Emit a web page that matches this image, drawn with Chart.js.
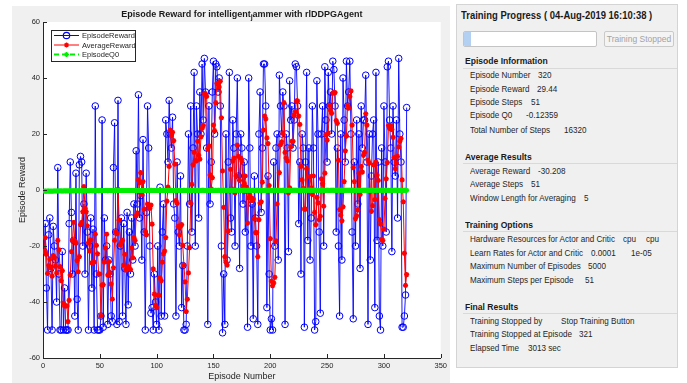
<!DOCTYPE html>
<html>
<head>
<meta charset="utf-8">
<script src="https://cdn.jsdelivr.net/npm/chart.js@4.4.0/dist/chart.umd.min.js"></script>
<style>
  html, body { margin: 0; padding: 0; background: #fff; }
  body { width: 687px; height: 383px; position: relative; overflow: hidden; font-family: Arial, "Liberation Sans", sans-serif; }
  #plot { position: absolute; left: 0; top: 0; }
  #panel { position: absolute; left: 456px; top: 4px; width: 222px; height: 364px; background: #f0f0f0; border: 1px solid #d4d4d4; box-sizing: border-box; }
  .t { position: absolute; white-space: nowrap; transform: scaleX(0.9); transform-origin: 0 50%; line-height: 1; color: #262626; font-size: 9px; }
  .h { font-weight: bold; font-size: 9.5px; color: #1a1a1a; }
  .sep { position: absolute; left: 463px; width: 214px; height: 1px; background: #d9d9d9; }
  #bar { position: absolute; left: 463px; top: 31px; width: 134px; height: 16px; box-sizing: border-box; border: 1px solid #c4c4c4; border-radius: 2px; background: #fff; overflow: hidden; }
  #bar div { width: 7px; height: 100%; background: #b3cff2; }
  #btn { position: absolute; left: 604px; top: 31px; width: 70px; height: 16px; box-sizing: border-box; border: 1px solid #cacaca; border-radius: 2px; background: #f4f4f4; color: #a3a3a3; font-size: 8.5px; line-height: 14px; text-align: center; white-space: nowrap; }
</style>
</head>
<body>
<canvas id="plot" width="450" height="383"></canvas>

<div id="panel"></div>
<div class="t h" style="left:461px;top:9.5px;font-size:10.5px;">Training Progress ( 04-Aug-2019 16:10:38 )</div>
<div id="bar"><div></div></div>
<div id="btn">Training Stopped</div>

<div class="t h" style="left:465px;top:56px;">Episode Information</div>
<div class="sep" style="top:68px;"></div>
<div class="t" style="left:470px;top:71.3px;">Episode Number</div><div class="t" style="left:538px;top:71.3px;">320</div>
<div class="t" style="left:470px;top:84.8px;">Episode Reward</div><div class="t" style="left:537px;top:84.8px;">29.44</div>
<div class="t" style="left:470px;top:98.3px;">Episode Steps</div><div class="t" style="left:531px;top:98.3px;">51</div>
<div class="t" style="left:470px;top:111.3px;">Episode Q0</div><div class="t" style="left:526px;top:111.3px;">-0.12359</div>
<div class="t" style="left:470px;top:125.5px;">Total Number of Steps</div><div class="t" style="left:564px;top:125.5px;">16320</div>

<div class="t h" style="left:465px;top:152px;">Average Results</div>
<div class="sep" style="top:163px;"></div>
<div class="t" style="left:470px;top:167.3px;">Average Reward</div><div class="t" style="left:538px;top:167.3px;">-30.208</div>
<div class="t" style="left:470px;top:180.3px;">Average Steps</div><div class="t" style="left:531px;top:180.3px;">51</div>
<div class="t" style="left:470px;top:194.3px;">Window Length for Averaging</div><div class="t" style="left:584px;top:194.3px;">5</div>

<div class="t h" style="left:465px;top:220px;">Training Options</div>
<div class="sep" style="top:231px;"></div>
<div class="t" style="left:470px;top:235.3px;">Hardware Resources for Actor and Critic</div><div class="t" style="left:623px;top:235.3px;">cpu</div><div class="t" style="left:646px;top:235.3px;">cpu</div>
<div class="t" style="left:470px;top:249.3px;">Learn Rates for Actor and Critic</div><div class="t" style="left:591px;top:249.3px;">0.0001</div><div class="t" style="left:631px;top:249.3px;">1e-05</div>
<div class="t" style="left:470px;top:262.3px;">Maximum Number of Episodes</div><div class="t" style="left:588px;top:262.3px;">5000</div>
<div class="t" style="left:470px;top:276.3px;">Maximum Steps per Episode</div><div class="t" style="left:585px;top:276.3px;">51</div>

<div class="t h" style="left:465px;top:302px;">Final Results</div>
<div class="sep" style="top:313px;"></div>
<div class="t" style="left:470px;top:317.3px;">Training Stopped by</div><div class="t" style="left:561px;top:317.3px;">Stop Training Button</div>
<div class="t" style="left:470px;top:330.3px;">Training Stopped at Episode</div><div class="t" style="left:579px;top:330.3px;">321</div>
<div class="t" style="left:470px;top:344.3px;">Elapsed Time</div><div class="t" style="left:528px;top:344.3px;">3013 sec</div>

<script>
// values, episodes 1..320
const episodeReward = [
  -22, -12, -35, -50, -16, -10, -28, -50, -13, -20,
  -25, -40, 8, -30, -50, -50, -22, -50, -35, -50,
  -50, -50, -12, 10, -8, -30, -18, -45, 6, -39,
  -50, 9, 12, 10, -20, -5, -30, 6, -15, -50,
  -20, -10, -35, -14, -50, 30, -30, -50, -50, -50,
  -45, 25, -49, -10, -25, -20, -48, -25, -30, -45,
  -47, 8, 24, -15, -48, 32, -47, -20, -10, -45,
  -12, -28, -48, -8, -41, -15, -30, -10, -25, -5,
  -20, 14, -5, 34, -10, -2, -25, 18, -15, -50,
  -8, 30, 15, -20, -44, -42, -50, -30, -40, -48,
  -20, -50, 1, -45, -15, -5, -45, 25, 20, 10,
  32, 20, 15, 26, -5, -10, -45, 10, -15, -20,
  5, -42, -27, -50, -50, -48, -20, 20, -5, 30,
  -15, 15, 42, -20, 30, 20, -10, 35, 20, 45,
  25, 47, 35, 15, -48, 30, -5, 10, 35, 46,
  20, 45, 44, 35, 40, 30, -20, -51, -30, -48,
  20, -25, 10, 42, -10, -15, 25, 15, -20, 20,
  40, 5, -28, 20, 15, -5, 10, -15, 0, -49,
  40, 15, -20, -5, -46, 5, -10, -20, -48, 20,
  35, -8, 15, 45, 45, 30, -42, 5, -30, -50,
  -46, -50, 10, -20, 15, 20, -25, 41, 30, 20,
  35, 30, -48, 20, 15, -22, 39, 25, 30, 15,
  25, 45, 44, 30, -12, 10, -30, 20, 15, -49,
  10, 42, -18, 15, -25, -10, 30, 15, -50, -47,
  39, 20, -15, -44, 20, 30, -20, 44, 25, 10,
  42, 30, 35, 20, 46, 43, 30, -15, 15, -20,
  -45, 20, -25, 40, 25, 10, 46, 30, 35, 46,
  20, -15, -46, 10, -20, 25, -5, 20, -28, 30,
  15, 25, 25, 41, 10, -48, 20, -25, 5, 20,
  25, -42, 42, -18, 10, -45, -50, 15, -20, 30,
  10, -15, 44, 46, 25, 15, -22, 30, 10, 5,
  25, -10, 47, 20, 10, -49, -49, -45, -37.5, 29.44
];

const averageReward = [
  -22, -17, -23, -29.8, -27, -24.6, -27.8, -30.8, -23.4, -24.2,
  -27.2, -29.6, -18, -21.4, -27.4, -32.4, -28.8, -40.4, -41.4, -41.4,
  -41.4, -47, -39.4, -30.4, -22, -18, -11.6, -18.2, -19, -25.2,
  -29.2, -23.8, -12.4, -11.6, -7.8, 1.2, -6.6, -7.8, -12.8, -18.8,
  -21.8, -17.8, -26, -25.8, -25.8, -15.8, -19.8, -22.8, -30, -30,
  -45, -34, -33.8, -25.8, -20.8, -15.8, -30.4, -25.6, -29.6, -33.6,
  -39, -27.8, -18, -15, -15.6, 0.2, -10.8, -19.6, -18.6, -18,
  -26.8, -23, -28.6, -28.2, -27.4, -28, -28.4, -20.8, -24.2, -17,
  -18, -9.2, -8.2, 3.6, 2.6, 6.2, -1.6, 3, -6.8, -14.8,
  -16, -5, -5.6, -6.6, -5.4, -12.2, -28.2, -37.2, -41.2, -42,
  -37.6, -37.6, -31.4, -32.4, -25.8, -22.8, -21.8, -17, -4, 1,
  8.4, 21.4, 19.4, 20.6, 17.6, 9.2, -3.8, -4.8, -13, -16,
  -13, -12.4, -19.8, -26.8, -32.8, -43.4, -39, -29.6, -20.6, -4.6,
  2, 9, 13.4, 10.4, 10.4, 17.4, 12.4, 11, 19, 22,
  23, 34.4, 34.4, 33.4, 14.8, 15.8, 5.4, 0.4, 4.4, 23.2,
  21.2, 31.2, 38, 38, 36.8, 38.8, 25.8, 6.8, -6.2, -23.8,
  -25.8, -26.8, -14.6, -0.2, 7.4, 0.4, 10.4, 11.4, -1, 5,
  16, 12, 3.4, 11.4, 10.4, 1.4, 2.4, 5, 1, -11.8,
  -2.8, -1.8, -2.8, -3.8, -3.2, -10.2, -15.2, -15.2, -23.8, -10.6,
  -4.6, -4.2, 2.8, 21.4, 26.4, 25.4, 18.6, 16.6, 1.6, -17.4,
  -32.6, -34.2, -33.2, -31.2, -18.2, -5, 0, 6.2, 16.2, 17.2,
  20.2, 31.2, 13.4, 11.4, 10.4, -1, 0.8, 15.4, 17.4, 17.4,
  26.8, 28, 31.8, 31.8, 26.4, 23.4, 8.4, 3.6, 0.6, -6.8,
  -6.8, 7.6, 0, 0, 4.8, 0.8, -1.6, 5, -8, -12.4,
  -2.6, -4.6, -10.6, -9.4, 4, 2.2, -5.8, 6, 19.8, 17.8,
  20.2, 30.2, 28.4, 27.4, 34.6, 34.8, 34.8, 24.8, 23.8, 10.6,
  -7, -9, -11, -6, 3, 14, 19.2, 30.2, 29.2, 33.4,
  35.4, 23.2, 8, 3, -10.2, -9.2, -7.2, 6, -1.6, 8.4,
  6.4, 12.4, 13.4, 27.2, 23.2, 10.6, 9.6, -0.4, -7.6, -5.6,
  9, -3.4, 10, 5.4, 3.4, -10.6, -12.2, -17.6, -18, -14,
  -3, 4, 9.8, 23, 22, 23, 21.6, 18.8, 11.6, 7.6,
  9.6, 12, 15.4, 17.4, 18.4, 3.6, -4.2, -22.6, -34.1, -30.208
];

const episodeQ0 = [
  -0.42, -0.38, -0.45, -0.40, -0.36, -0.41, -0.39, -0.44, -0.37, -0.35,
  -0.33, -0.38, -0.34, -0.36, -0.31, -0.35, -0.32, -0.37, -0.30, -0.34,
  -0.29, -0.33, -0.31, -0.28, -0.32, -0.30, -0.27, -0.31, -0.29, -0.26,
  -0.30, -0.28, -0.25, -0.29, -0.27, -0.24, -0.28, -0.26, -0.23, -0.27,
  -0.25, -0.22, -0.26, -0.24, -0.21, -0.25, -0.23, -0.20, -0.24, -0.22,
  -0.19, -0.23, -0.21, -0.18, -0.22, -0.20, -0.24, -0.19, -0.21, -0.17,
  -0.20, -0.18, -0.22, -0.19, -0.16, -0.21, -0.18, -0.20, -0.17, -0.19,
  -0.16, -0.20, -0.18, -0.15, -0.19, -0.17, -0.21, -0.16, -0.18, -0.15,
  -0.19, -0.17, -0.14, -0.18, -0.16, -0.20, -0.15, -0.17, -0.19, -0.14,
  -0.16, -0.18, -0.15, -0.17, -0.13, -0.19, -0.16, -0.14, -0.18, -0.15,
  -0.17, -0.14, -0.16, -0.18, -0.13, -0.15, -0.17, -0.14, -0.16, -0.12,
  -0.15, -0.17, -0.13, -0.16, -0.14, -0.18, -0.15, -0.12, -0.16, -0.14,
  -0.13, -0.16, -0.15, -0.12, -0.14, -0.17, -0.13, -0.15, -0.11, -0.14,
  -0.16, -0.13, -0.15, -0.12, -0.14, -0.16, -0.13, -0.11, -0.15, -0.13,
  -0.12, -0.14, -0.16, -0.13, -0.11, -0.15, -0.12, -0.14, -0.13, -0.10,
  -0.14, -0.12, -0.15, -0.11, -0.13, -0.16, -0.12, -0.14, -0.11, -0.13,
  -0.15, -0.12, -0.10, -0.14, -0.13, -0.11, -0.15, -0.12, -0.14, -0.10,
  -0.13, -0.15, -0.11, -0.12, -0.14, -0.10, -0.13, -0.12, -0.15, -0.11,
  -0.12, -0.14, -0.13, -0.10, -0.12, -0.15, -0.11, -0.13, -0.12, -0.14,
  -0.10, -0.13, -0.12, -0.14, -0.11, -0.13, -0.15, -0.12, -0.10, -0.13,
  -0.14, -0.11, -0.13, -0.12, -0.10, -0.14, -0.12, -0.13, -0.11, -0.15,
  -0.12, -0.10, -0.13, -0.14, -0.11, -0.12, -0.13, -0.10, -0.14, -0.12,
  -0.11, -0.13, -0.12, -0.15, -0.10, -0.12, -0.14, -0.11, -0.13, -0.12,
  -0.14, -0.12, -0.10, -0.13, -0.12, -0.11, -0.14, -0.13, -0.10, -0.12,
  -0.13, -0.11, -0.14, -0.12, -0.13, -0.10, -0.12, -0.14, -0.11, -0.13,
  -0.12, -0.14, -0.11, -0.10, -0.13, -0.12, -0.15, -0.11, -0.12, -0.13,
  -0.10, -0.12, -0.13, -0.11, -0.14, -0.12, -0.10, -0.13, -0.12, -0.11,
  -0.13, -0.12, -0.10, -0.14, -0.11, -0.13, -0.12, -0.14, -0.10, -0.12,
  -0.11, -0.13, -0.12, -0.10, -0.13, -0.14, -0.11, -0.12, -0.13, -0.10,
  -0.12, -0.14, -0.11, -0.13, -0.12, -0.10, -0.13, -0.11, -0.12, -0.14,
  -0.13, -0.11, -0.12, -0.10, -0.14, -0.12, -0.13, -0.11, -0.12, -0.13,
  -0.11, -0.12, -0.14, -0.10, -0.13, -0.12, -0.11, -0.13, -0.12, -0.12359
];

const xTickValues = [0, 50, 100, 150, 200, 250, 300, 350];
const yTickValues = [-60, -40, -20, 0, 20, 40, 60];

const FONT = 'Arial, "Liberation Sans", sans-serif';
const AXIS = '#262626';
Chart.defaults.font.family = FONT;

// episode number is the x value
const toPoints = arr => arr.map((v, i) => ({ x: i + 1, y: v }));

// grey figure background + white axes box
const background = {
  id: 'background',
  beforeDraw(chart) {
    const { ctx, chartArea: a, width, height } = chart;
    ctx.save();
    ctx.fillStyle = '#fff';
    ctx.fillRect(0, 0, width, height);
    ctx.fillStyle = '#f0f0f0';
    ctx.fillRect(12, 6, width - 12, height - 6);
    ctx.fillStyle = '#fff';
    ctx.fillRect(a.left, a.top, a.right - a.left, a.bottom - a.top);
    ctx.restore();
  }
};

// matlab style title, with the "_j" shown as a subscript
const axesTitle = {
  id: 'axesTitle',
  afterDraw(chart) {
    const { ctx, chartArea: a } = chart;
    const big = 'bold 9px ' + FONT, small = 'bold 7px ' + FONT;
    const parts = [['Episode Reward for intelligent', big, 0], ['j', small, 2], ['ammer with rlDDPGAgent', big, 0]];
    ctx.save();
    ctx.fillStyle = '#1a1a1a';
    ctx.textBaseline = 'alphabetic';
    let total = 0;
    parts.forEach(p => { ctx.font = p[1]; total += ctx.measureText(p[0]).width; });
    let x = (a.left + a.right) / 2 - total / 2;
    parts.forEach(p => {
      ctx.font = p[1];
      ctx.fillText(p[0], x, 17 + p[2]);
      x += ctx.measureText(p[0]).width;
    });
    ctx.restore();
  }
};

// ticks pointing into the axes
const innerTicks = {
  id: 'innerTicks',
  afterDraw(chart) {
    const { ctx, chartArea: a, scales } = chart;
    ctx.save();
    ctx.strokeStyle = AXIS;
    ctx.lineWidth = 1;
    ctx.beginPath();
    scales.x.ticks.forEach(t => {
      const px = Math.round(scales.x.getPixelForValue(t.value)) + 0.5;
      ctx.moveTo(px, a.bottom); ctx.lineTo(px, a.bottom - 4);
    });
    scales.y.ticks.forEach(t => {
      const py = Math.round(scales.y.getPixelForValue(t.value)) + 0.5;
      ctx.moveTo(a.left, py); ctx.lineTo(a.left + 4, py);
    });
    ctx.stroke();
    ctx.restore();
  }
};

function star(ctx, x, y, r) {
  ctx.beginPath();
  ctx.moveTo(x - r, y); ctx.lineTo(x + r, y);
  ctx.moveTo(x, y - r); ctx.lineTo(x, y + r);
  const d = r * 0.707;
  ctx.moveTo(x - d, y - d); ctx.lineTo(x + d, y + d);
  ctx.moveTo(x - d, y + d); ctx.lineTo(x + d, y - d);
  ctx.stroke();
}

// legend box in the upper left corner
const boxLegend = {
  id: 'boxLegend',
  afterDraw(chart) {
    const { ctx } = chart;
    const entries = [
      { text: 'EpisodeReward', color: '#0000ff', dash: [], marker: 'circle' },
      { text: 'AverageReward', color: '#ff0000', dash: [], marker: 'star' },
      { text: 'EpisodeQ0', color: '#00ee00', dash: [5, 3], marker: 'star' }
    ];
    ctx.save();
    ctx.fillStyle = '#fff';
    ctx.fillRect(51, 30, 84, 31);
    ctx.strokeStyle = AXIS;
    ctx.lineWidth = 1;
    ctx.strokeRect(51.5, 30.5, 84, 31);
    ctx.font = '7.5px ' + FONT;
    ctx.textBaseline = 'middle';
    entries.forEach((e, i) => {
      const y = 35.5 + i * 9.5;
      ctx.strokeStyle = e.color;
      ctx.lineWidth = e.marker === 'circle' ? 1 : (e.dash.length ? 2 : 1);
      ctx.setLineDash(e.dash);
      ctx.beginPath(); ctx.moveTo(54, y); ctx.lineTo(79, y); ctx.stroke();
      ctx.setLineDash([]);
      ctx.lineWidth = 1.2;
      if (e.marker === 'circle') {
        ctx.beginPath(); ctx.arc(66.5, y, 3.2, 0, Math.PI * 2); ctx.stroke();
      } else {
        star(ctx, 66.5, y, 2.5);
      }
      ctx.fillStyle = AXIS;
      ctx.fillText(e.text, 82, y + 0.5);
    });
    ctx.restore();
  }
};

const tickFont = { size: 7.5, family: FONT };
const titleFont = { size: 9, family: FONT };

new Chart(document.getElementById('plot').getContext('2d'), {
  type: 'line',
  data: {
    datasets: [
      {
        label: 'EpisodeQ0', data: toPoints(episodeQ0), order: 0,
        borderColor: '#00ee00', borderWidth: 3, borderDash: [6, 3],
        pointStyle: 'star', pointRadius: 2.5, pointBorderWidth: 1.5,
        pointBorderColor: '#00ee00', pointBackgroundColor: '#00ee00'
      },
      {
        label: 'AverageReward', data: toPoints(averageReward), order: 1,
        borderColor: '#ff0000', borderWidth: 1,
        pointStyle: 'star', pointRadius: 2.6, pointBorderWidth: 1.5,
        pointBorderColor: '#ff0000', pointBackgroundColor: '#ff0000'
      },
      {
        label: 'EpisodeReward', data: toPoints(episodeReward), order: 2,
        borderColor: 'rgba(0,0,255,0.9)', borderWidth: 1,
        pointStyle: 'circle', pointRadius: 3.3, pointBorderWidth: 1,
        pointBorderColor: '#0000ff', pointBackgroundColor: 'rgba(0,0,0,0)'
      }
    ]
  },
  options: {
    responsive: false,
    animation: false,
    events: [],
    layout: { padding: { left: 0, right: 7, top: 22, bottom: 0 } },
    elements: { line: { tension: 0 } },
    plugins: { legend: { display: false }, tooltip: { enabled: false }, title: { display: false } },
    scales: {
      x: {
        type: 'linear', min: 0, max: 350,
        afterBuildTicks: s => { s.ticks = xTickValues.map(v => ({ value: v })); },
        afterFit: s => { s.height = 25; },
        ticks: { font: tickFont, color: AXIS, padding: 3, maxRotation: 0, autoSkip: false },
        grid: { drawOnChartArea: false, drawTicks: false },
        border: { color: AXIS, width: 1 },
        title: { display: true, text: 'Episode Number', font: titleFont, color: AXIS, padding: { top: 0, bottom: 1 } }
      },
      y: {
        type: 'linear', min: -60, max: 60,
        afterBuildTicks: s => { s.ticks = yTickValues.map(v => ({ value: v })); },
        afterFit: s => { s.width = 43; },
        ticks: { font: tickFont, color: AXIS, padding: 3, autoSkip: false },
        grid: { drawOnChartArea: false, drawTicks: false },
        border: { color: AXIS, width: 1 },
        title: { display: true, text: 'Episode Reward', font: titleFont, color: AXIS, padding: { top: 17, bottom: 0 } }
      }
    }
  },
  plugins: [background, innerTicks, boxLegend, axesTitle]
});
</script>
</body>
</html>
